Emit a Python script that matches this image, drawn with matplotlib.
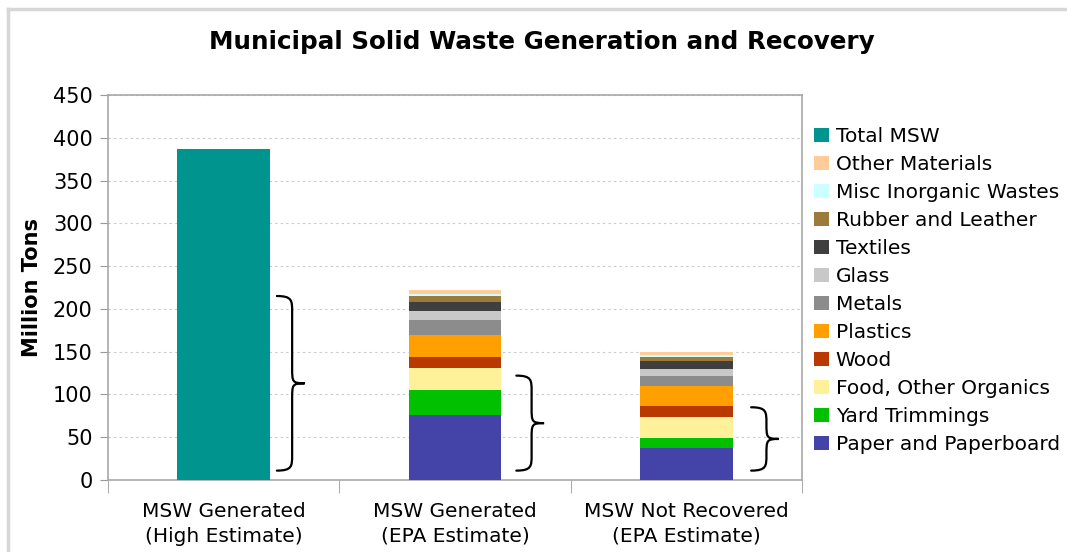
import matplotlib.pyplot as plt
import numpy as np
from matplotlib.lines import Line2D
from matplotlib.patches import Patch, PathPatch
from matplotlib.path import Path

categories = ["MSW Generated\n(High Estimate)", "MSW Generated\n(EPA Estimate)",
              "MSW Not Recovered\n(EPA Estimate)"]

total_msw = 387.0

# stacked materials, bottom to top: (generated, not recovered) in million tons
materials = ["Paper and Paperboard", "Yard Trimmings", "Food, Other Organics", "Wood",
             "Plastics", "Metals", "Glass", "Textiles", "Rubber and Leather",
             "Misc Inorganic Wastes", "Other Materials"]
generated = [75.7, 29.2, 26.2, 12.8, 26.1, 17.1, 10.1, 11.0, 6.5, 2.8, 4.7]
not_recovered = [38.0, 10.8, 25.4, 12.0, 24.2, 10.9, 9.0, 8.5, 4.7, 3.1, 3.5]
colors = ["#4343A8", "#00C000", "#FFF199", "#B83A00", "#FFA000", "#8C8C8C",
          "#C8C8C8", "#3F3F3F", "#9C7A3C", "#CCFFFF", "#FFCC99"]
total_color = "#00948F"

# curly braces to the right of each bar: (x position, bottom, top)
brace_x = [0.23, 1.265, 2.28]
brace_spans = [(11, 215), (11, 122), (11, 85)]

yticks = np.arange(0, 451, 50)


def draw_brace(ax, x, y0, y1, w=0.12, r=18):
    xm = x + w * 0.55
    xt = x + w
    ymid = (y0 + y1) / 2
    verts = [(x, y0), (xm, y0), (xm, y0 + r * 0.3), (xm, y0 + r),
             (xm, ymid - r), (xm, ymid - r * 0.1), (xm, ymid), (xt, ymid),
             (xm, ymid), (xm, ymid + r * 0.1), (xm, ymid + r),
             (xm, y1 - r), (xm, y1 - r * 0.3), (xm, y1), (x, y1)]
    codes = [Path.MOVETO, Path.CURVE4, Path.CURVE4, Path.CURVE4,
             Path.LINETO, Path.CURVE4, Path.CURVE4, Path.CURVE4,
             Path.CURVE4, Path.CURVE4, Path.CURVE4,
             Path.LINETO, Path.CURVE4, Path.CURVE4, Path.CURVE4]
    ax.add_patch(PathPatch(Path(verts, codes), fill=False, lw=1.6,
                           edgecolor="black", capstyle="round", zorder=4))


fig = plt.figure(figsize=(10.67, 5.52), dpi=100)
ax = fig.add_axes([0.1012, 0.1304, 0.6505, 0.6976])

x = np.arange(len(categories))
width = 0.4

ax.bar(x[0], total_msw, width, color=total_color, zorder=3)
bottom_gen = 0.0
bottom_nr = 0.0
for name, g, n, c in zip(materials, generated, not_recovered, colors):
    ax.bar(x[1], g, width, bottom=bottom_gen, color=c, zorder=3)
    ax.bar(x[2], n, width, bottom=bottom_nr, color=c, zorder=3)
    bottom_gen += g
    bottom_nr += n

for bx, (b0, b1) in zip(brace_x, brace_spans):
    draw_brace(ax, bx, b0, b1)

ax.set_xlim(-0.5, 2.5)
ax.set_ylim(0, 450)
ax.set_yticks(yticks)
ax.tick_params(axis="y", labelsize=15, length=6, color="#999999", pad=5)
ax.set_xticks(x)
ax.set_xticklabels(categories, fontsize=14.5, linespacing=1.4)
ax.tick_params(axis="x", which="major", length=0, pad=15.5)
ax.set_xticks([-0.5, 0.5, 1.5, 2.5], minor=True)
ax.tick_params(axis="x", which="minor", length=9, color="#999999")
ax.grid(axis="y", linestyle=(0, (2, 3)), color="#C8C8C8", lw=0.8, zorder=0)
for s in ax.spines.values():
    s.set_color("#A8A8A8")
    s.set_linewidth(1.2)

ax.set_ylabel("Million Tons", fontsize=15, fontweight="bold", labelpad=8)

fig.text(0.508, 0.924, "Municipal Solid Waste Generation and Recovery",
         ha="center", va="center", fontsize=17.7, fontweight="bold")

handles = [Patch(facecolor=total_color, label="Total MSW")]
for name, c in zip(materials[::-1], colors[::-1]):
    handles.append(Patch(facecolor=c, label=name))
fig.legend(handles=handles, loc="upper left", bbox_to_anchor=(0.7555, 0.784),
           frameon=False, fontsize=14.5, handlelength=0.72, handleheight=0.72,
           handletextpad=0.35, labelspacing=0.445, borderaxespad=0)

# light frame along the top and left edges of the figure
fig.add_artist(Line2D([0.0075, 1.0], [0.984, 0.984], transform=fig.transFigure,
                      color="#D6D6D6", lw=2.5))
fig.add_artist(Line2D([0.0075, 0.0075], [0.0, 0.984], transform=fig.transFigure,
                      color="#D6D6D6", lw=2.5))

fig.savefig("out.png", dpi=100)
